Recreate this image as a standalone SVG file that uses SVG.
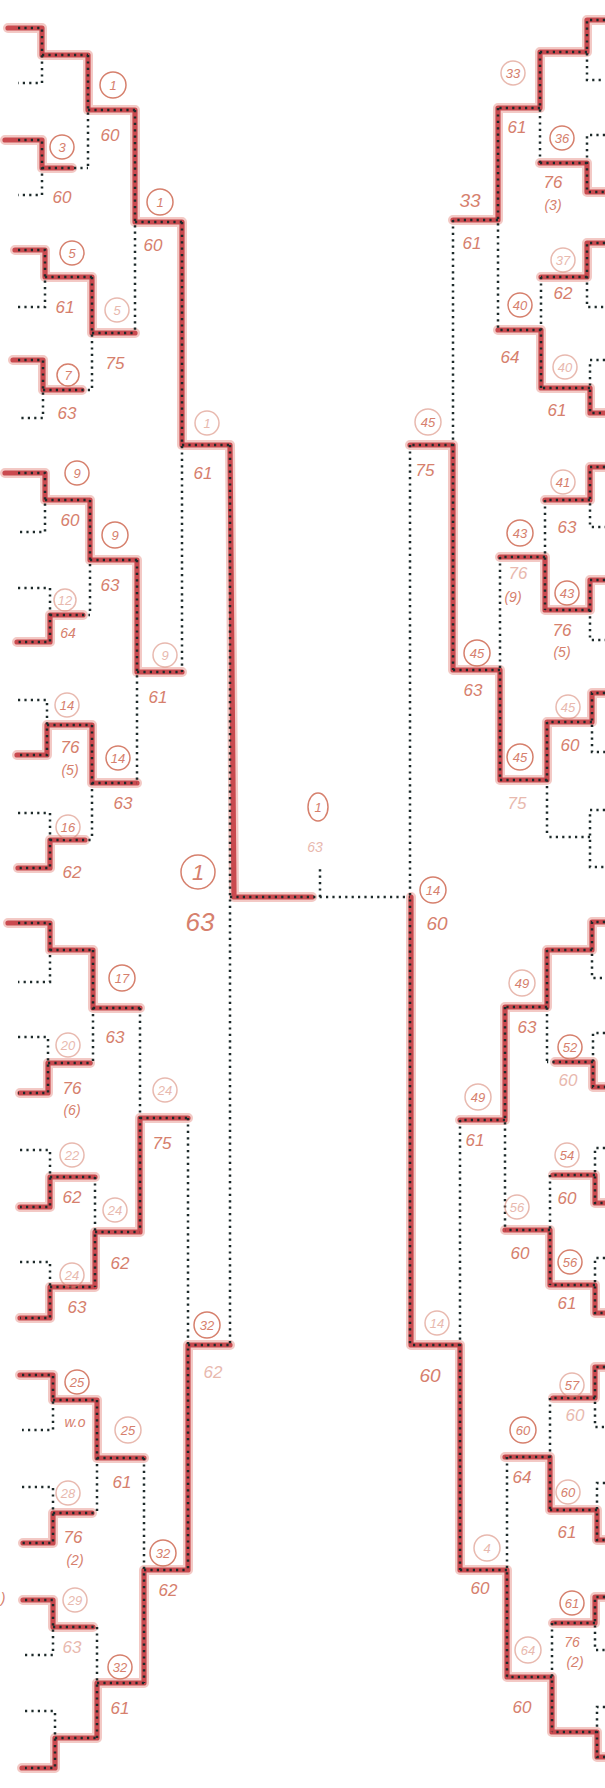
<svg xmlns="http://www.w3.org/2000/svg" xmlns:xlink="http://www.w3.org/1999/xlink" width="605" height="1788" viewBox="0 0 605 1788">
<style>
.tpl{fill:none;stroke:#1d2a2a;stroke-width:2.5;stroke-dasharray:2.2 4.2}
.halo{fill:none;stroke:#efb8b2;stroke-width:10;stroke-linejoin:round;stroke-linecap:round;opacity:.75}
.hl{fill:none;stroke:#c94a4f;stroke-width:5.2;stroke-linejoin:round;stroke-linecap:round}
.t{font-family:"Liberation Sans",Arial,sans-serif;font-style:italic;fill:#d6806d;font-size:17px;text-anchor:middle;dominant-baseline:central}
.s{font-size:14px}
.cn{font-size:13px}
.ring{fill:none;stroke:#d6806d;stroke-width:1.5}
.f{opacity:.55}
</style>
<defs>
<path id="h1" d="M8,28H42V55H88V110H135V222H182V445H230L234,897H312"/>
<path id="h3" d="M5,140H42V168H72"/>
<path id="h5" d="M15,250H45V277H92V333H135"/>
<path id="h7" d="M13,360H43V390H82"/>
<path id="h9" d="M5,473H45V500H90V560H137V672H182"/>
<path id="h12" d="M17,642H50V615H83"/>
<path id="h14" d="M17,755H47V725H92V783H137"/>
<path id="h16" d="M18,868H50V840H85"/>
<path id="h17" d="M8,923H50V950H93V1008H140"/>
<path id="h20" d="M20,1093H48V1063H90"/>
<path id="h22" d="M20,1207H50V1177H95"/>
<path id="h24" d="M20,1318H50V1287H95V1232H140V1118H188"/>
<path id="h25" d="M20,1375H53V1400H97V1458H144"/>
<path id="h28" d="M23,1543H53V1513H92"/>
<path id="h29" d="M23,1600H53V1627H93"/>
<path id="h32" d="M22,1768H55V1738H97V1683H144V1570H188V1345H230"/>
<path id="h33" d="M605,20H587V52H540V108H498V220H453"/>
<path id="h36" d="M605,192H587V163H540"/>
<path id="h37" d="M605,243H587V277H541"/>
<path id="h40" d="M605,413H590V388H541V330H498"/>
<path id="h41" d="M605,467H590V500H545"/>
<path id="h43" d="M605,580H590V610H545V557H500"/>
<path id="h45" d="M605,693H592V722H547V780H500V670H453V445H410"/>
<path id="h49" d="M605,922H592V950H547V1007H505V1120H460"/>
<path id="h52" d="M605,1087H593V1062H555"/>
<path id="h54" d="M605,1203H595V1175H553"/>
<path id="h56" d="M605,1313H595V1285H550V1230H505"/>
<path id="h57" d="M605,1367H595V1398H553"/>
<path id="h60" d="M605,1540H597V1510H550V1457H505"/>
<path id="h61" d="M605,1597H595V1623H553"/>
<path id="h64" d="M605,1757H597V1732H552V1677H507V1570H460V1345H411V897"/>
<g id="allh">
<use href="#h1"/><use href="#h3"/><use href="#h5"/><use href="#h7"/><use href="#h9"/><use href="#h12"/><use href="#h14"/><use href="#h16"/>
<use href="#h17"/><use href="#h20"/><use href="#h22"/><use href="#h24"/><use href="#h25"/><use href="#h28"/><use href="#h29"/><use href="#h32"/>
<use href="#h33"/><use href="#h36"/><use href="#h37"/><use href="#h40"/><use href="#h41"/><use href="#h43"/><use href="#h45"/><use href="#h49"/>
<use href="#h52"/><use href="#h54"/><use href="#h56"/><use href="#h57"/><use href="#h60"/><use href="#h61"/><use href="#h64"/>
</g>
</defs>
<rect width="605" height="1788" fill="#ffffff"/>
<g id="connectors">
<use href="#allh" class="halo"/>
<use href="#allh" class="hl"/>
<path class="tpl" d="M18,28H42V83H18M42,55H88 M18,140H42V195H18M42,168H88 M18,250H45V307H18M45,277H92 M18,360H43V418H18M43,390H92 M18,473H45V532H18M45,500H90 M18,588H50V642H18M50,615H90 M18,700H47V755H18M47,725H92 M18,813H50V868H18M50,840H92 M18,923H50V982H18M50,950H93 M18,1037H48V1093H18M48,1063H93 M20,1150H50V1207H20M50,1177H95 M20,1262H50V1318H20M50,1287H95 M22,1375H53V1430H22M53,1400H97 M22,1487H53V1543H22M53,1513H97 M25,1600H53V1655H25M53,1627H97 M25,1711H55V1768H25M55,1738H97"/>
<path class="tpl" d="M88,55V168M88,110H135 M92,277V390M92,333H135 M90,500V615M90,560H137 M92,725V840M92,783H137 M93,950V1063M93,1008H140 M95,1177V1287M95,1232H140 M97,1400V1513M97,1458H144 M97,1627V1738M97,1683H144 M135,110V333M135,222H182 M137,560V783M137,672H182 M140,1008V1232M140,1118H188 M144,1458V1683M144,1570H188 M182,222V672M182,445H230 M188,1118V1570M188,1345H230 M230,445V1345M230,897H410 M320,897V868 M410,445V1345"/>
<path class="tpl" d="M605,20H587V80H605M587,52H540 M605,135H587V192H605M587,163H540 M605,243H587V307H605M587,277H541 M605,360H590V413H605M590,388H541 M605,467H590V527H605M590,500H545 M605,580H590V640H605M590,610H545 M605,693H592V752H605M592,722H547 M605,810H590V867H605M590,837H547 M605,922H592V978H605M592,950H547 M605,1033H593V1087H605M593,1062H547 M605,1148H595V1203H605M595,1175H550 M605,1258H595V1313H605M595,1285H550 M605,1367H595V1427H605M595,1398H550 M605,1483H597V1540H605M597,1510H550 M605,1597H595V1650H605M595,1623H552 M605,1707H597V1757H605M597,1732H552"/>
<path class="tpl" d="M540,52V163M540,108H498 M541,277V388M541,330H498 M545,500V610M545,557H500 M547,722V837M547,780H500 M547,950V1062M547,1007H505 M550,1175V1285M550,1230H505 M550,1398V1510M550,1457H505 M552,1623V1732M552,1677H507 M498,108V330M498,220H453 M500,557V780M500,670H453 M505,1007V1230M505,1120H460 M507,1457V1677M507,1570H460 M453,220V670M453,445H410 M460,1120V1570M460,1345H410"/>
</g>
<g id="left-r1" class="t">
<g id="L2"><circle class="ring" cx="62" cy="147" r="12"/><text x="62" y="147" class="cn">3</text><text x="62" y="197">60</text></g>
<g id="L3"><circle class="ring" cx="72" cy="253" r="12"/><text x="72" y="253" class="cn">5</text><text x="65" y="307">61</text></g>
<g id="L4"><circle class="ring" cx="68" cy="375" r="11"/><text x="68" y="375" class="cn">7</text><text x="67" y="413">63</text></g>
<g id="L5"><circle class="ring" cx="77" cy="473" r="12"/><text x="77" y="473" class="cn">9</text><text x="70" y="520">60</text></g>
<g id="L6"><circle class="ring f" cx="65" cy="600" r="11"/><text x="65" y="600" class="cn f">12</text><text x="68" y="633" class="s">64</text></g>
<g id="L7"><circle class="ring f" cx="67" cy="705" r="12"/><text x="67" y="705" class="cn">14</text><text x="70" y="747">76</text><text x="70" y="770" class="s">(5)</text></g>
<g id="L8"><circle class="ring f" cx="68" cy="827" r="12"/><text x="68" y="827" class="cn">16</text><text x="72" y="872">62</text></g>
<g id="L10"><circle class="ring f" cx="68" cy="1045" r="12"/><text x="68" y="1045" class="cn f">20</text><text x="72" y="1088">76</text><text x="72" y="1110" class="s">(6)</text></g>
<g id="L11"><circle class="ring f" cx="72" cy="1155" r="12"/><text x="72" y="1155" class="cn f">22</text><text x="72" y="1197">62</text></g>
<g id="L12"><circle class="ring f" cx="72" cy="1275" r="12"/><text x="72" y="1275" class="cn f">24</text><text x="77" y="1307">63</text></g>
<g id="L13"><circle class="ring" cx="77" cy="1382" r="12"/><text x="77" y="1382" class="cn">25</text><text x="75" y="1422" class="s">w.o</text></g>
<g id="L14"><circle class="ring f" cx="68" cy="1493" r="12"/><text x="68" y="1493" class="cn f">28</text><text x="73" y="1537">76</text><text x="75" y="1560" class="s">(2)</text></g>
<g id="L15"><circle class="ring f" cx="75" cy="1600" r="12"/><text x="75" y="1600" class="cn f">29</text><text x="72" y="1647" class="f">63</text></g>
<text x="3" y="1598" class="s">)</text>
</g>
<g id="left-r2" class="t">
<g id="L21"><circle class="ring" cx="113" cy="85" r="13"/><text x="113" y="85" class="cn">1</text><text x="110" y="135">60</text></g>
<g id="L22"><circle class="ring f" cx="117" cy="310" r="12"/><text x="117" y="310" class="cn f">5</text><text x="115" y="363">75</text></g>
<g id="L23"><circle class="ring" cx="115" cy="535" r="13"/><text x="115" y="535" class="cn">9</text><text x="110" y="585">63</text></g>
<g id="L24"><circle class="ring" cx="118" cy="758" r="12"/><text x="118" y="758" class="cn">14</text><text x="123" y="803">63</text></g>
<g id="L25"><circle class="ring" cx="122" cy="978" r="13"/><text x="122" y="978" class="cn">17</text><text x="115" y="1037">63</text></g>
<g id="L26"><circle class="ring f" cx="115" cy="1210" r="12"/><text x="115" y="1210" class="cn f">24</text><text x="120" y="1263">62</text></g>
<g id="L27"><circle class="ring f" cx="128" cy="1430" r="13"/><text x="128" y="1430" class="cn">25</text><text x="122" y="1482">61</text></g>
<g id="L28"><circle class="ring" cx="120" cy="1667" r="12"/><text x="120" y="1667" class="cn">32</text><text x="120" y="1708">61</text></g>
</g>
<g id="left-r3" class="t">
<g id="L31"><circle class="ring" cx="160" cy="202" r="13"/><text x="160" y="202" class="cn">1</text><text x="153" y="245">60</text></g>
<g id="L32"><circle class="ring f" cx="165" cy="655" r="12"/><text x="165" y="655" class="cn f">9</text><text x="158" y="697">61</text></g>
<g id="L33"><circle class="ring f" cx="165" cy="1090" r="12"/><text x="165" y="1090" class="cn f">24</text><text x="162" y="1143">75</text></g>
<g id="L34"><circle class="ring" cx="163" cy="1553" r="13"/><text x="163" y="1553" class="cn">32</text><text x="168" y="1590">62</text></g>
</g>
<g id="left-r4" class="t">
<g id="L41"><circle class="ring f" cx="207" cy="423" r="12"/><text x="207" y="423" class="cn f">1</text><text x="203" y="473">61</text></g>
<g id="L42"><circle class="ring" cx="207" cy="1325" r="13"/><text x="207" y="1325" class="cn">32</text><text x="213" y="1372" class="f">62</text></g>
</g>
<g id="final" class="t">
<g id="Lfinal"><circle class="ring" cx="198" cy="872" r="17"/><text x="198" y="872" style="font-size:22px">1</text><text x="200" y="922" style="font-size:26px">63</text></g>
<g id="champion"><ellipse class="ring" cx="318" cy="807" rx="10" ry="14"/><text x="318" y="807" class="cn">1</text><text x="315" y="847" class="s f">63</text></g>
<g id="Rfinal"><circle class="ring" cx="433" cy="890" r="13"/><text x="433" y="890" class="cn">14</text><text x="437" y="923" style="font-size:19px">60</text></g>
</g>
<g id="right-r1" class="t">
<g id="R2m"><circle class="ring" cx="562" cy="138" r="12"/><text x="562" y="138" class="cn">36</text><text x="553" y="182">76</text><text x="553" y="205" class="s">(3)</text></g>
<g id="R3m"><circle class="ring f" cx="563" cy="260" r="12"/><text x="563" y="260" class="cn f">37</text><text x="563" y="293">62</text></g>
<g id="R4m"><circle class="ring f" cx="565" cy="367" r="12"/><text x="565" y="367" class="cn f">40</text><text x="557" y="410">61</text></g>
<g id="R5m"><circle class="ring f" cx="563" cy="482" r="12"/><text x="563" y="482" class="cn">41</text><text x="567" y="527">63</text></g>
<g id="R6m"><circle class="ring" cx="567" cy="593" r="12"/><text x="567" y="593" class="cn">43</text><text x="562" y="630">76</text><text x="562" y="652" class="s">(5)</text></g>
<g id="R7m"><circle class="ring f" cx="568" cy="707" r="12"/><text x="568" y="707" class="cn f">45</text><text x="570" y="745">60</text></g>
<g id="R10m"><circle class="ring" cx="570" cy="1047" r="12"/><text x="570" y="1047" class="cn">52</text><text x="568" y="1080" class="f">60</text></g>
<g id="R11m"><circle class="ring f" cx="567" cy="1155" r="12"/><text x="567" y="1155" class="cn">54</text><text x="567" y="1198">60</text></g>
<g id="R12m"><circle class="ring" cx="570" cy="1262" r="12"/><text x="570" y="1262" class="cn">56</text><text x="567" y="1303">61</text></g>
<g id="R13m"><circle class="ring f" cx="572" cy="1385" r="12"/><text x="572" y="1385" class="cn">57</text><text x="575" y="1415" class="f">60</text></g>
<g id="R14m"><circle class="ring f" cx="568" cy="1492" r="12"/><text x="568" y="1492" class="cn">60</text><text x="567" y="1532">61</text></g>
<g id="R15m"><circle class="ring" cx="572" cy="1603" r="12"/><text x="572" y="1603" class="cn">61</text><text x="572" y="1642" class="s">76</text><text x="575" y="1662" class="s">(2)</text></g>
</g>
<g id="right-r2" class="t">
<g id="R21"><circle class="ring f" cx="513" cy="73" r="12"/><text x="513" y="73" class="cn">33</text><text x="517" y="127">61</text></g>
<g id="R22"><circle class="ring" cx="520" cy="305" r="12"/><text x="520" y="305" class="cn">40</text><text x="510" y="357">64</text></g>
<g id="R23"><circle class="ring" cx="520" cy="533" r="13"/><text x="520" y="533" class="cn">43</text><text x="518" y="573" class="f">76</text><text x="513" y="597" class="s">(9)</text></g>
<g id="R24"><circle class="ring" cx="520" cy="757" r="13"/><text x="520" y="757" class="cn">45</text><text x="517" y="803" class="f">75</text></g>
<g id="R25"><circle class="ring f" cx="522" cy="983" r="13"/><text x="522" y="983" class="cn">49</text><text x="527" y="1027">63</text></g>
<g id="R26"><circle class="ring f" cx="517" cy="1207" r="12"/><text x="517" y="1207" class="cn f">56</text><text x="520" y="1253">60</text></g>
<g id="R27"><circle class="ring" cx="523" cy="1430" r="13"/><text x="523" y="1430" class="cn">60</text><text x="522" y="1477">64</text></g>
<g id="R28"><circle class="ring f" cx="528" cy="1650" r="13"/><text x="528" y="1650" class="cn f">64</text><text x="522" y="1707">60</text></g>
</g>
<g id="right-r3" class="t">
<g id="R31"><text x="470" y="200" style="font-size:19px">33</text><text x="472" y="243">61</text></g>
<g id="R32"><circle class="ring" cx="477" cy="653" r="13"/><text x="477" y="653" class="cn">45</text><text x="473" y="690">63</text></g>
<g id="R33"><circle class="ring f" cx="478" cy="1097" r="13"/><text x="478" y="1097" class="cn">49</text><text x="475" y="1140">61</text></g>
<g id="R34"><circle class="ring f" cx="487" cy="1548" r="13"/><text x="487" y="1548" class="cn f">4</text><text x="480" y="1588">60</text></g>
</g>
<g id="right-r4" class="t">
<g id="R41"><circle class="ring f" cx="428" cy="422" r="13"/><text x="428" y="422" class="cn">45</text><text x="425" y="470">75</text></g>
<g id="R42"><circle class="ring f" cx="437" cy="1323" r="12"/><text x="437" y="1323" class="cn f">14</text><text x="430" y="1375" style="font-size:19px">60</text></g>
</g>
</svg>
